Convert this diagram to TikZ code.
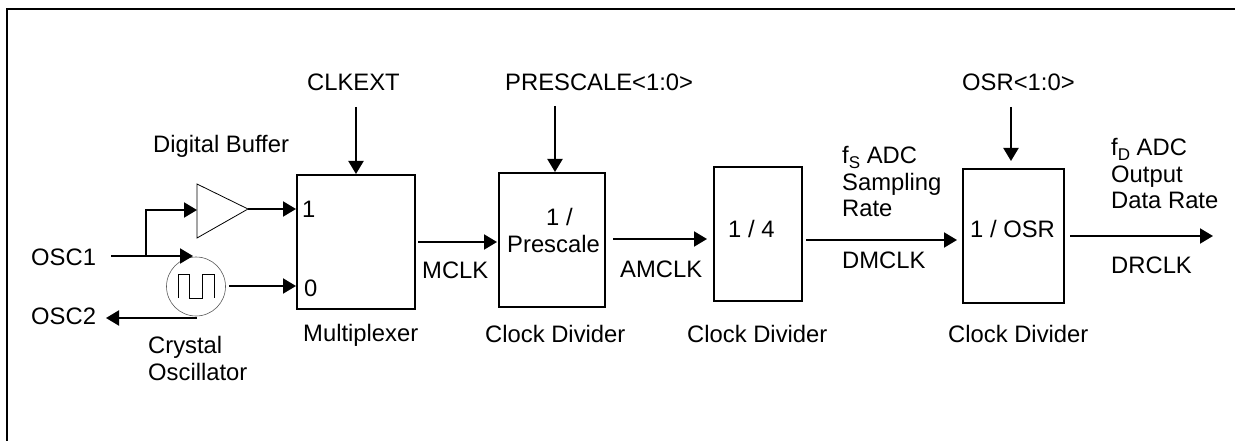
\documentclass[tikz,border=0pt]{standalone}
\usepackage{fontspec}
\setmainfont{Liberation Sans}
\usetikzlibrary{arrows.meta}
\newcommand{\subtxt}[1]{\raisebox{-5pt}{\fontsize{17}{20}\selectfont #1}}
\tikzset{
  conn/.style={line width=2pt,-{Triangle[length=13pt,width=15pt]}},
  blk/.style={draw,line width=2pt,inner sep=0pt},
  txt/.style={inner sep=0pt,font=\fontsize{23.8}{28}\selectfont,anchor=base west,yshift=-0.7pt},
}
\begin{document}
\begin{tikzpicture}[x=1pt,y=-1pt]
\useasboundingbox (0,0) rectangle (1235,441);
\fill[white] (0,0) rectangle (1235,441);
\draw[line width=2pt] (7,441) -- (7,9) -- (1235,9);
% blocks
\node[blk,minimum width=118pt,minimum height=134pt] (mux) at (356,242) {};
\node[blk,minimum width=106pt,minimum height=134pt] (pre) at (552,240) {};
\node[blk,minimum width=88pt,minimum height=134pt] (four) at (758,234) {};
\node[blk,minimum width=101pt,minimum height=134pt] (osr) at (1013.5,236) {};
% buffer
\draw[line width=.8pt,fill=white] (197,184) -- (248,209) -- (197,238) -- cycle;
\coordinate (bufin) at (197,210);
\coordinate (bufout) at (248,209);
% oscillator
\node[draw=black!65,line width=.6pt,circle,minimum size=59pt,inner sep=0pt] (xtal) at (196,286.5) {};
\draw[line width=.7pt] (178,298) -- (178,274) -- (189,274) -- (189,298) -- (202,298) -- (202,274) -- (214,274) -- (214,298);
% free ends
\coordinate (osc1s) at (111,256);
\coordinate (osc1e) at (193,256);
\coordinate (j) at (146,256);
\coordinate (osc2s) at (197,318);
\coordinate (osc2e) at (106,318);
\coordinate (ck) at (356,107);
\coordinate (pr) at (555,106);
\coordinate (os) at (1011,107);
% connectors
\draw[conn] (osc1s) -- (osc1e);
\draw[conn] (j) -- (146,210) -- (bufin);
\draw[conn] (bufout) -- (296,209);
\draw[conn] (229,286) -- (296,286);
\draw[conn] (osc2s) -- (osc2e);
\draw[conn] (ck) -- (356,174);
\draw[conn] (pr) -- (555,172);
\draw[conn] (os) -- (1011,161);
\draw[conn] (418,242) -- (497,242);
\draw[conn] (613,239) -- (707,239);
\draw[conn] (806,240) -- (957,240);
\draw[conn] (1070,236) -- (1213,236);
% labels
\node[txt] (t1) at (307,90) {CLKEXT};
\node[txt] (t2) at (505,90) {PRESCALE<1:0>};
\node[txt] (t3) at (962,90) {OSR<1:0>};
\node[txt] (t4) at (153,152) {Digital Buffer};
\node[txt] (t5) at (31,265) {OSC1};
\node[txt] (t6) at (31,324) {OSC2};
\node[txt] (t7) at (148,353) {Crystal};
\node[txt] (t8) at (148,380) {Oscillator};
\node[txt] (t9) at (302,217) {1};
\node[txt] (t10) at (304,296) {0};
\node[txt] (t11) at (303,341) {Multiplexer};
\node[txt] (t12) at (422,278) {MCLK};
\node[txt] (t13) at (546,225) {1 /};
\node[txt] (t14) at (507,252) {Prescale};
\node[txt] (t15) at (620,277) {AMCLK};
\node[txt] (t16) at (485,342) {Clock Divider};
\node[txt] (t17) at (728,237) {1 / 4};
\node[txt] (t18) at (687,342) {Clock Divider};
\node[txt] (t19) at (842,163) {f\subtxt{S} ADC};
\node[txt] (t20) at (842,190) {Sampling};
\node[txt] (t21) at (842,216) {Rate};
\node[txt] (t22) at (842,268) {DMCLK};
\node[txt] (t23) at (970,237) {1 / OSR};
\node[txt] (t24) at (948,342) {Clock Divider};
\node[txt] (t25) at (1111,155) {f\subtxt{D} ADC};
\node[txt] (t26) at (1111,182) {Output};
\node[txt] (t27) at (1111,208) {Data Rate};
\node[txt] (t28) at (1111,273) {DRCLK};
\end{tikzpicture}
\end{document}
